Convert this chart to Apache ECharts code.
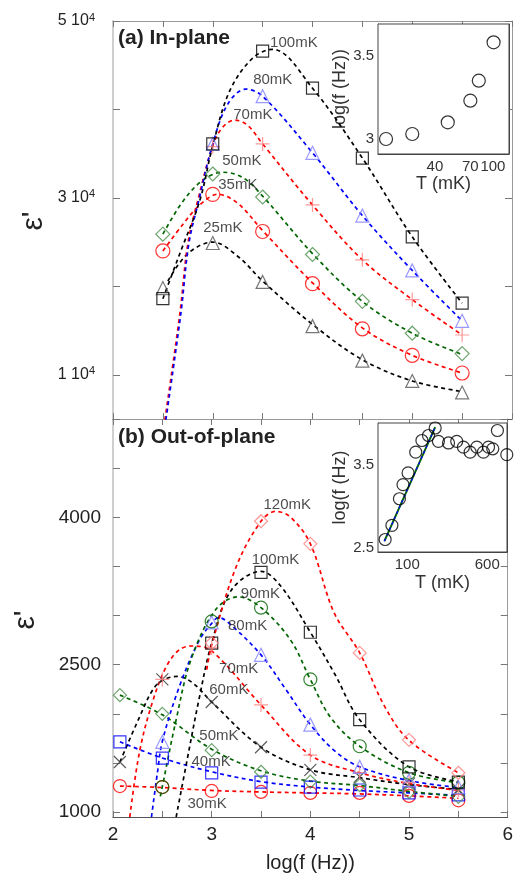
<!DOCTYPE html>
<html>
<head>
<meta charset="utf-8">
<title>epsilon</title>
<script src="https://cdn.jsdelivr.net/npm/echarts@6/dist/echarts.min.js"></script>
<style>html,body{margin:0;padding:0;background:#fff;}</style>
</head>
<body>
<div id="chart" style="width:516px;height:879px"></div>
<script>
// (a) in-plane: markers
var fA = [2.5, 3, 3.5, 4, 4.5, 5, 5.5];
var a25 = [19800, 24900, 20500, 15500, 11600, 9300, 8000];
var a35 = [24000, 30400, 26200, 20300, 15200, 12200, 10200];
var a50 = [25900, 32700, 30100, 23600, 18300, 14700, 12400];
var a70 = [null, 35800, 36100, 29200, 23000, 18500, 14500];
var a80 = [null, 36100, 41500, 35100, 28000, 21800, 16100];
var a100 = [18600, 36100, 46600, 42400, 34500, 25600, 18100];
// (a) fit curves
var a25FitX = [2.55, 2.75, 3.0, 3.25, 3.5, 4.0, 4.5, 5.0, 5.5];
var a25FitY = [20600, 23700, 25000, 23400, 20600, 15700, 11700, 9300, 8100];
var a35FitX = [2.5, 2.7, 2.87, 3.05, 3.25, 3.5, 4, 4.5, 5, 5.5];
var a35FitY = [24000, 27000, 29200, 30400, 29400, 26300, 20400, 15300, 12200, 10200];
var a50FitX = [2.5, 2.7, 2.9, 3.1, 3.3, 3.5, 4, 4.5, 5, 5.5];
var a50FitY = [25900, 29600, 32000, 32900, 32300, 30200, 23700, 18300, 14700, 12300];
var a70FitX = [2.52, 2.67, 2.75, 2.85, 3.0, 3.1, 3.22, 3.35, 3.5, 4, 4.5, 5, 5.5];
var a70FitY = [4900, 16900, 24800, 29700, 35900, 38000, 38800, 38200, 36100, 29200, 23000, 18500, 14500];
var a80FitX = [2.53, 2.68, 2.76, 2.86, 3.0, 3.15, 3.33, 3.5, 4, 4.5, 5, 5.5];
var a80FitY = [4900, 16900, 24800, 29700, 36100, 40600, 42300, 41500, 35100, 28000, 21800, 16100];
var a100FitX = [2.5, 2.68, 2.87, 3.0, 3.17, 3.4, 3.6, 4, 4.5, 5, 5.5];
var a100FitY = [18600, 24000, 29700, 35900, 42100, 45800, 46800, 42400, 34500, 25600, 18100];

// (b) out-of-plane: markers
var fB = [2.07, 2.5, 3, 3.5, 4, 4.5, 5, 5.5];
var b30 = [1265, 1255, 1215, 1205, 1195, 1195, 1165, 1120];
var b40 = [1715, 1550, 1400, 1305, 1255, 1225, 1195, 1175];
var b50 = [2190, 2000, 1630, 1410, 1310, 1275, 1205, 1155];
var b60 = [1510, 2350, 2120, 1660, 1430, 1360, 1290, 1230];
var b70 = [null, 2350, 2670, 2090, 1580, 1400, 1300, 1225];
var b80 = [null, 1715, 2930, 2600, 1890, 1460, 1325, 1255];
var b90 = [null, 1255, 2940, 3080, 2350, 1670, 1400, 1300];
var b100 = [null, null, 2720, 3440, 2830, 1940, 1460, 1305];
var b120 = [null, null, 2720, 3960, 3730, 2620, 1735, 1400];
// (b) fit curves
var b30FitX = [2.07, 2.5, 3, 3.5, 4, 4.5, 5, 5.5];
var b30FitY = [1265, 1250, 1220, 1205, 1195, 1185, 1165, 1140];
var b40FitX = [2.07, 2.5, 3, 3.5, 4, 4.5, 5, 5.5];
var b40FitY = [1715, 1550, 1410, 1310, 1255, 1220, 1195, 1170];
var b50FitX = [2.07, 2.5, 3, 3.5, 4, 4.5, 5, 5.5];
var b50FitY = [2190, 1990, 1640, 1420, 1315, 1270, 1210, 1160];
var b60FitX = [2.07, 2.27, 2.4, 2.5, 2.65, 2.8, 3.0, 3.5, 4, 4.5, 5, 5.5];
var b60FitY = [1510, 1970, 2240, 2340, 2380, 2320, 2120, 1660, 1430, 1350, 1280, 1230];
var b70FitX = [2.17, 2.27, 2.4, 2.54, 2.67, 2.8, 3.0, 3.5, 4.0, 4.5, 5.0, 5.5];
var b70FitY = [950, 1620, 2120, 2480, 2650, 2690, 2640, 2090, 1580, 1400, 1290, 1220];
var b80FitX = [2.39, 2.45, 2.5, 2.67, 2.87, 3.0, 3.07, 3.2, 3.5, 3.75, 4, 4.25, 4.5, 5, 5.5];
var b80FitY = [950, 1400, 1720, 2270, 2740, 2920, 2980, 2900, 2600, 2250, 1890, 1620, 1460, 1320, 1250];
var b90FitX = [2.48, 2.5, 2.64, 2.79, 3.04, 3.27, 3.5, 3.8, 4, 4.2, 4.5, 5, 5.5];
var b90FitY = [1160, 1260, 1940, 2550, 3060, 3190, 3080, 2750, 2350, 1970, 1670, 1400, 1300];
var b100FitX = [2.64, 2.77, 2.87, 3.0, 3.2, 3.5, 3.7, 4.0, 4.25, 4.5, 5.0, 5.5];
var b100FitY = [950, 1630, 2140, 2720, 3260, 3450, 3300, 2830, 2400, 1940, 1460, 1310];
var b120FitX = [2.95, 3.0, 3.25, 3.5, 3.65, 3.8, 4.0, 4.24, 4.5, 4.75, 5.0, 5.5];
var b120FitY = [2450, 2700, 3500, 3960, 4060, 4000, 3730, 3030, 2620, 2080, 1730, 1400];

// insets: peak frequency vs temperature
var insetATemp = [18.5, 28, 49, 70, 80, 101];
var insetALogF = [3.0, 3.03, 3.10, 3.23, 3.35, 3.58];
var insetBTemp = [61, 71, 84, 91, 102, 121, 139, 161, 187, 201, 252, 303, 352, 409, 475, 551, 617, 679, 753, 929];
var insetBLogF = [2.60, 2.77, 3.09, 3.26, 3.40, 3.65, 3.79, 3.85, 3.94, 3.78, 3.76, 3.78, 3.71, 3.65, 3.71, 3.65, 3.71, 3.69, 3.91, 3.62];
var insetBFitTemp = [60, 187];
var insetBFitLogF = [2.58, 3.95];

// tick labels
var fTicks = [2, 3, 4, 5, 6];
var aTicks = [10000, 30000, 50000];
var aMinorTicks = [10000, 20000, 30000, 40000, 50000];
var bTicks = [1000, 2500, 4000];
var bMinorTicks = [1000, 1500, 2000, 2500, 3000, 3500, 4000, 4500, 5000];
var insetATTicks = [40, 70, 100];
var insetAFTicks = [3, 3.5];
var insetBTTicks = [100, 600];
var insetBFTicks = [2.5, 3.5];
var insetBFMinor = [2.5, 3, 3.5];

// annotation labels [x, y, text]
var labelsA = [[3.57, 47500, '100mK'], [3.40, 43300, '80mK'], [3.20, 39400, '70mK'],
  [3.09, 34200, '50mK'], [3.05, 31500, '35mK'], [2.90, 26600, '25mK']];
var labelsB = [[3.52, 4130, '120mK'], [3.40, 3570, '100mK'], [3.29, 3220, '90mK'],
  [3.16, 2900, '80mK'], [3.07, 2460, '70mK'], [2.97, 2240, '60mK'], [2.87, 1775, '50mK'],
  [2.79, 1510, '40mK'], [2.75, 1080, '30mK']];

var FONT = '"Liberation Sans", Arial, sans-serif';
var BLACK = '#000', BLUE = '#0000ff', RED = '#ff0000', GREEN = '#006400';
var PLUS = 'path://M0,50L100,50M50,0L50,100';
var CROSS = 'path://M0,0L100,100M100,0L0,100';

function zip(xs, ys) {
  var out = [];
  for (var i = 0; i < xs.length; i++) if (ys[i] != null) out.push([xs[i], ys[i]]);
  return out;
}
function log10All(a) { return a.map(function (v) { return Math.log10(v); }); }

function fit(xs, ys, color, xi, yi) {
  return { type: 'line', xAxisIndex: xi, yAxisIndex: yi, data: zip(xs, ys), showSymbol: false,
    smooth: 0.35, lineStyle: { color: color, width: 1.7, type: [4, 3.5] }, z: 3, silent: true };
}
function marks(xs, ys, sym, color, size, xi, yi) {
  return { type: 'scatter', xAxisIndex: xi, yAxisIndex: yi, data: zip(xs, ys), symbol: sym,
    symbolSize: size, itemStyle: { color: 'rgba(0,0,0,0)', borderColor: color, borderWidth: 1.2 },
    z: 4, silent: true };
}
function notes(list, xi, yi) {
  return { type: 'scatter', xAxisIndex: xi, yAxisIndex: yi, symbolSize: 1, silent: true, z: 5,
    itemStyle: { color: 'rgba(0,0,0,0)' },
    data: list.map(function (d) { return { value: [d[0], d[1]], name: d[2] }; }),
    label: { show: true, formatter: '{b}', position: 'right', distance: 0,
      fontSize: 15, color: '#222', fontFamily: FONT } };
}

function fAxis(grid, pos, labels) {
  return { type: 'value', gridIndex: grid, position: pos, min: 2, max: 6, interval: 0.5,
    axisLine: { onZero: false, lineStyle: { color: pos === 'top' ? '#999' : '#555', width: 1 } },
    axisTick: { inside: true, length: 6, lineStyle: { color: '#777' } },
    axisLabel: labels ? { customValues: fTicks, fontSize: 19, color: '#222', fontFamily: FONT, margin: 8 } : { show: false },
    splitLine: { show: false } };
}
function yAxisMain(grid, pos, min, max, minor, lab) {
  var ax = { type: 'value', gridIndex: grid, position: pos, min: min, max: max,
    axisLine: { show: true, onZero: false, lineStyle: { color: pos === 'left' ? '#cfcfcf' : '#999', width: pos === 'left' ? 2 : 1 } },
    axisTick: { inside: true, length: 7, customValues: minor, lineStyle: { color: '#777' } },
    splitLine: { show: false } };
  ax.axisLabel = lab ? lab : { show: false };
  return ax;
}
function insetAxis(grid, pos, min, max, labels, ticks, fmt, name, gap) {
  var vertical = pos === 'left' || pos === 'right';
  var ax = { type: 'value', gridIndex: grid, position: pos, min: min, max: max,
    axisLine: { show: true, onZero: false, lineStyle: { color: '#444' } },
    axisTick: { inside: true, length: 5, customValues: ticks, lineStyle: { color: '#444' } },
    splitLine: { show: false },
    axisLabel: labels ? { customValues: labels, formatter: fmt, fontSize: 15, color: '#333', fontFamily: FONT, margin: vertical ? 4 : 5 } : { show: false } };
  if (name) {
    ax.name = name; ax.nameLocation = 'middle'; ax.nameGap = gap;
    ax.nameTextStyle = { fontSize: 18, color: '#333', fontFamily: FONT };
  }
  return ax;
}

var chart = echarts.init(document.getElementById('chart'), null, { renderer: 'canvas' });

var series = [
  fit(a25FitX, a25FitY, BLACK, 0, 0), fit(a35FitX, a35FitY, RED, 0, 0), fit(a50FitX, a50FitY, GREEN, 0, 0),
  fit(a70FitX, a70FitY, RED, 0, 0), fit(a80FitX, a80FitY, BLUE, 0, 0), fit(a100FitX, a100FitY, BLACK, 0, 0),
  marks(fA, a25, 'triangle', '#555', 13, 0, 0), marks(fA, a35, 'circle', RED, 14, 0, 0),
  marks(fA, a50, 'diamond', '#4a8f4a', 14, 0, 0), marks(fA, a70, PLUS, '#ff8080', 14, 0, 0),
  marks(fA, a80, 'triangle', '#7f7fff', 13, 0, 0), marks(fA, a100, 'rect', BLACK, 12, 0, 0),
  notes(labelsA, 0, 0),

  fit(b30FitX, b30FitY, RED, 2, 2), fit(b40FitX, b40FitY, BLUE, 2, 2), fit(b50FitX, b50FitY, GREEN, 2, 2),
  fit(b60FitX, b60FitY, BLACK, 2, 2), fit(b70FitX, b70FitY, RED, 2, 2), fit(b80FitX, b80FitY, BLUE, 2, 2),
  fit(b90FitX, b90FitY, GREEN, 2, 2), fit(b100FitX, b100FitY, BLACK, 2, 2), fit(b120FitX, b120FitY, RED, 2, 2),
  marks(fB, b30, 'circle', RED, 13, 2, 2), marks(fB, b40, 'rect', BLUE, 12, 2, 2),
  marks(fB, b50, 'diamond', '#4a8f4a', 13, 2, 2), marks(fB, b60, CROSS, '#333', 12, 2, 2),
  marks(fB, b70, PLUS, '#ff8080', 14, 2, 2), marks(fB, b80, 'triangle', '#7f7fff', 13, 2, 2),
  marks(fB, b90, 'circle', GREEN, 13, 2, 2), marks(fB, b100, 'rect', BLACK, 12, 2, 2),
  marks(fB, b120, 'diamond', '#ff8080', 13, 2, 2),
  notes(labelsB, 2, 2),

  marks(log10All(insetATemp), insetALogF, 'circle', BLACK, 13, 4, 4),
  { type: 'line', xAxisIndex: 5, yAxisIndex: 6, data: zip(log10All(insetBFitTemp), insetBFitLogF), showSymbol: false,
    lineStyle: { color: GREEN, width: 2 }, z: 3, silent: true },
  { type: 'line', xAxisIndex: 5, yAxisIndex: 6, data: zip(log10All(insetBFitTemp), insetBFitLogF), showSymbol: false,
    lineStyle: { color: BLUE, width: 1.2, type: [3, 3] }, z: 3, silent: true },
  marks(log10All(insetBTemp), insetBLogF, 'circle', BLACK, 12, 5, 6)
];

var supLabel = { customValues: aTicks, margin: 18,
  formatter: function (v) { return '{m|' + (v / 10000) + ' 10}{s|4}'; },
  rich: { m: { fontSize: 16, color: '#222', fontFamily: FONT, lineHeight: 18 },
          s: { fontSize: 11, color: '#222', fontFamily: FONT, verticalAlign: 'top' } } };
var bLabel = { customValues: bTicks, fontSize: 19, color: '#222', fontFamily: FONT, margin: 12,
  formatter: function (v) { return String(v); } };
var tFmt = function (v) { return String(Math.round(Math.pow(10, v))); };

var option = {
  animation: false,
  backgroundColor: '#fff',
  textStyle: { fontFamily: FONT },
  grid: [
    { left: 113, top: 21, width: 399, height: 398 },
    { left: 113, top: 419, width: 399, height: 398 },
    { left: 378, top: 24, width: 131, height: 130, show: true, backgroundColor: '#fff', borderColor: '#444', borderWidth: 1, z: 1 },
    { left: 378, top: 423, width: 129, height: 129, show: true, backgroundColor: '#fff', borderColor: '#444', borderWidth: 1, z: 1 }
  ],
  xAxis: [
    fAxis(0, 'bottom', false), fAxis(0, 'top', false),
    (function () { var a = fAxis(1, 'bottom', true); a.name = 'log(f (Hz))'; a.nameLocation = 'middle'; a.nameGap = 36;
      a.nameTextStyle = { fontSize: 20, color: '#222', fontFamily: FONT }; return a; })(),
    fAxis(1, 'top', false),
    insetAxis(2, 'bottom', Math.log10(16.3), 2.11, log10All(insetATTicks), log10All(insetATTicks), tFmt, 'T (mK)', 20),
    insetAxis(3, 'bottom', Math.log10(52), 2.97, log10All(insetBTTicks), log10All(insetBTTicks), tFmt, 'T (mK)', 22)
  ],
  yAxis: [
    yAxisMain(0, 'left', 5000, 50000, aMinorTicks, supLabel),
    yAxisMain(0, 'right', 5000, 50000, aMinorTicks, null),
    yAxisMain(1, 'left', 950, 5000, bMinorTicks, bLabel),
    yAxisMain(1, 'right', 950, 5000, bMinorTicks, null),
    insetAxis(2, 'left', 2.91, 3.69, insetAFTicks, insetAFTicks, null, 'log(f (Hz))', 22),
    insetAxis(2, 'right', 2.91, 3.69, null, insetAFTicks, null, null, 0),
    insetAxis(3, 'left', 2.45, 4.0, insetBFTicks, insetBFMinor, null, 'log(f (Hz)', 28),
    insetAxis(3, 'right', 2.45, 4.0, null, insetBFMinor, null, null, 0)
  ],
  graphic: [
    { type: 'text', left: 118, top: 28, z: 10, style: { text: '(a) In-plane', font: 'bold 21px ' + FONT, fill: '#222' } },
    { type: 'text', left: 118, top: 427, z: 10, style: { text: '(b) Out-of-plane', font: 'bold 21px ' + FONT, fill: '#222' } },
    { type: 'text', x: 34, y: 221, rotation: Math.PI / 2, z: 10,
      style: { text: "\u03b5'", font: '30px ' + FONT, fill: '#222', align: 'center', verticalAlign: 'middle' } },
    { type: 'text', x: 26, y: 620, rotation: Math.PI / 2, z: 10,
      style: { text: "\u03b5'", font: '30px ' + FONT, fill: '#222', align: 'center', verticalAlign: 'middle' } }
  ],
  series: series
};
chart.setOption(option);
</script>
</body>
</html>
